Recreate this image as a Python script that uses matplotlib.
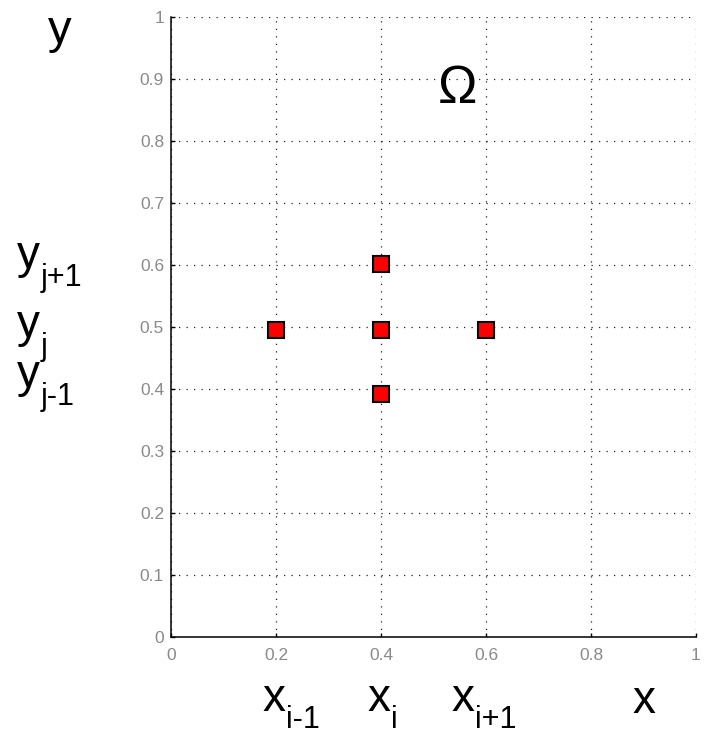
import matplotlib
matplotlib.use("Agg")
import matplotlib.pyplot as plt

plt.rcParams['font.family'] = ['Liberation Sans', 'DejaVu Sans']

# Data
pts_x = [0.2, 0.4, 0.4, 0.4, 0.6]
pts_y = [0.495, 0.602, 0.495, 0.392, 0.495]
xticks = [0, 0.2, 0.4, 0.6, 0.8, 1]
xticklabels = ['0', '0.2', '0.4', '0.6', '0.8', '1']
yticks = [0, 0.1, 0.2, 0.3, 0.4, 0.5, 0.6, 0.7, 0.8, 0.9, 1]
yticklabels = ['0', '0.1', '0.2', '0.3', '0.4', '0.5', '0.6', '0.7', '0.8', '0.9', '1']
y_labels = [('y', 'j+1'), ('y', 'j'), ('y', 'j-1')]
x_labels = [('x', 'i-1'), ('x', 'i'), ('x', 'i+1')]

W, H = 707, 736
fig = plt.figure(figsize=(W / 100, H / 100), dpi=100)
L, R, T, B = 171, 696, 17, 637
ax = fig.add_axes([L / W, 1 - B / H, (R - L) / W, (B - T) / H])

ax.set_xlim(0, 1)
ax.set_ylim(0, 1)
ax.set_xticks(xticks)
ax.set_xticklabels(xticklabels)
ax.set_yticks(yticks)
ax.set_yticklabels(yticklabels)

ax.grid(True, color='#222222', linestyle=(0, (1, 5)), linewidth=0.9)
ax.set_axisbelow(True)
for s in ['top', 'right']:
    ax.spines[s].set_visible(False)
for s in ['left', 'bottom']:
    ax.spines[s].set_linewidth(1.1)
    ax.spines[s].set_color('black')
ax.tick_params(direction='in', length=3, width=1, colors='black',
               labelcolor='#8a8a8a', labelsize=12.5)
ax.tick_params(axis='y', pad=5)
ax.tick_params(axis='x', pad=8)

ax.plot(pts_x, pts_y, linestyle='none', marker='s', markersize=11,
        markerfacecolor='#ff0000', markeredgecolor='black',
        markeredgewidth=1.5, zorder=5, clip_on=False)

MAIN = 33
SUB = 22

def ftext(px, py, s, size=MAIN):
    fig.text(px / W, 1 - py / H, s, fontsize=size, color='black',
             ha='left', va='baseline')

def sublabel(px, py, main, sub, sub_dx, sub_dy=18):
    ftext(px, py, main)
    ftext(px + sub_dx, py + sub_dy, sub, SUB)

# Plain big labels (pixel positions -> figure coords, baseline)
ftext(48, 43, 'y', 34)
ftext(438, 103, 'Ω', 38)
ftext(632, 713, 'x')

# Subscripted labels
y_rows = [268, 337, 387]
for (m, s), by in zip(y_labels, y_rows):
    sublabel(17, by, m, s, 24)

x_cols = [262, 367, 451]
for (m, s), bx in zip(x_labels, x_cols):
    sublabel(bx, 711, m, s, 24, 17)

fig.savefig('out.png', dpi=100)
